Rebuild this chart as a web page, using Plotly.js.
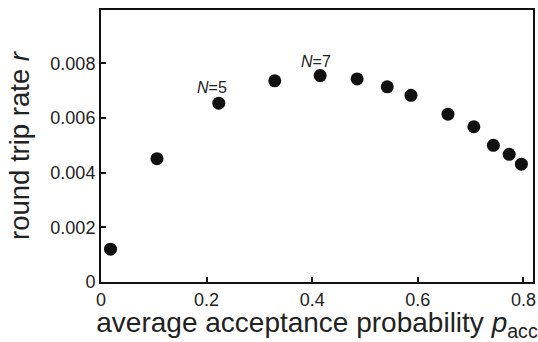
<!DOCTYPE html>
<html>
<head>
<meta charset="utf-8">
<script src="https://cdn.plot.ly/plotly-3.0.1.min.js"></script>
<style>html,body{margin:0;padding:0;background:#fff;}#chart{width:538px;height:342px;}</style>
</head>
<body>
<div id="chart"></div>
<script>
const pAcc = [0.018, 0.106, 0.223, 0.329, 0.415, 0.485, 0.542, 0.587, 0.657, 0.706, 0.743, 0.773, 0.796];
const rate = [0.00120, 0.00451, 0.00654, 0.00736, 0.00755, 0.00743, 0.00714, 0.00683, 0.00614, 0.00568, 0.00500, 0.00467, 0.00431];
const labelText = ['<i>N</i>=5', '<i>N</i>=7'];
const labelX = [0.210, 0.408];
const labelY = [0.00712, 0.00808];
const xTicks = [0, 0.2, 0.4, 0.6, 0.8];
const xTickText = ['0', '0.2', '0.4', '0.6', '0.8'];
const yTicks = [0, 0.002, 0.004, 0.006, 0.008];
const yTickText = ['0', '0.002', '0.004', '0.006', '0.008'];

const font = 'Arial, "Liberation Sans", Helvetica, sans-serif';

const trace = {
  x: pAcc, y: rate, mode: 'markers', type: 'scatter',
  marker: {size: 13, color: '#111111'},
  hoverinfo: 'skip', showlegend: false
};

const axisCommon = {
  showgrid: false, zeroline: false, showline: true, mirror: true,
  linecolor: '#111', linewidth: 2, ticks: 'inside', ticklen: 5, tickwidth: 2, tickcolor: '#111',
  tickfont: {family: font, size: 18, color: '#222'}, fixedrange: true
};

const layout = {
  width: 538, height: 342,
  margin: {l: 101, r: 5, t: 10, b: 60},
  paper_bgcolor: '#fff', plot_bgcolor: '#fff',
  font: {family: font},
  xaxis: Object.assign({}, axisCommon, {
    range: [0, 0.818], tickvals: xTicks, ticktext: xTickText,
    title: {text: 'average acceptance probability <i>p</i><sub>acc</sub>', font: {family: font, size: 28, color: '#222'}, standoff: 15}
  }),
  yaxis: Object.assign({}, axisCommon, {
    range: [0, 0.00995], tickvals: yTicks, ticktext: yTickText,
    title: {text: 'round trip rate <i>r</i>', font: {family: font, size: 27.5, color: '#222'}, standoff: 13}
  }),
  annotations: labelText.map((t, i) => ({
    x: labelX[i], y: labelY[i], xref: 'x', yref: 'y', text: t, showarrow: false,
    font: {family: font, size: 16, color: '#222'}, xanchor: 'center', yanchor: 'middle'
  }))
};

Plotly.newPlot('chart', [trace], layout, {displayModeBar: false, staticPlot: true});
</script>
</body>
</html>
